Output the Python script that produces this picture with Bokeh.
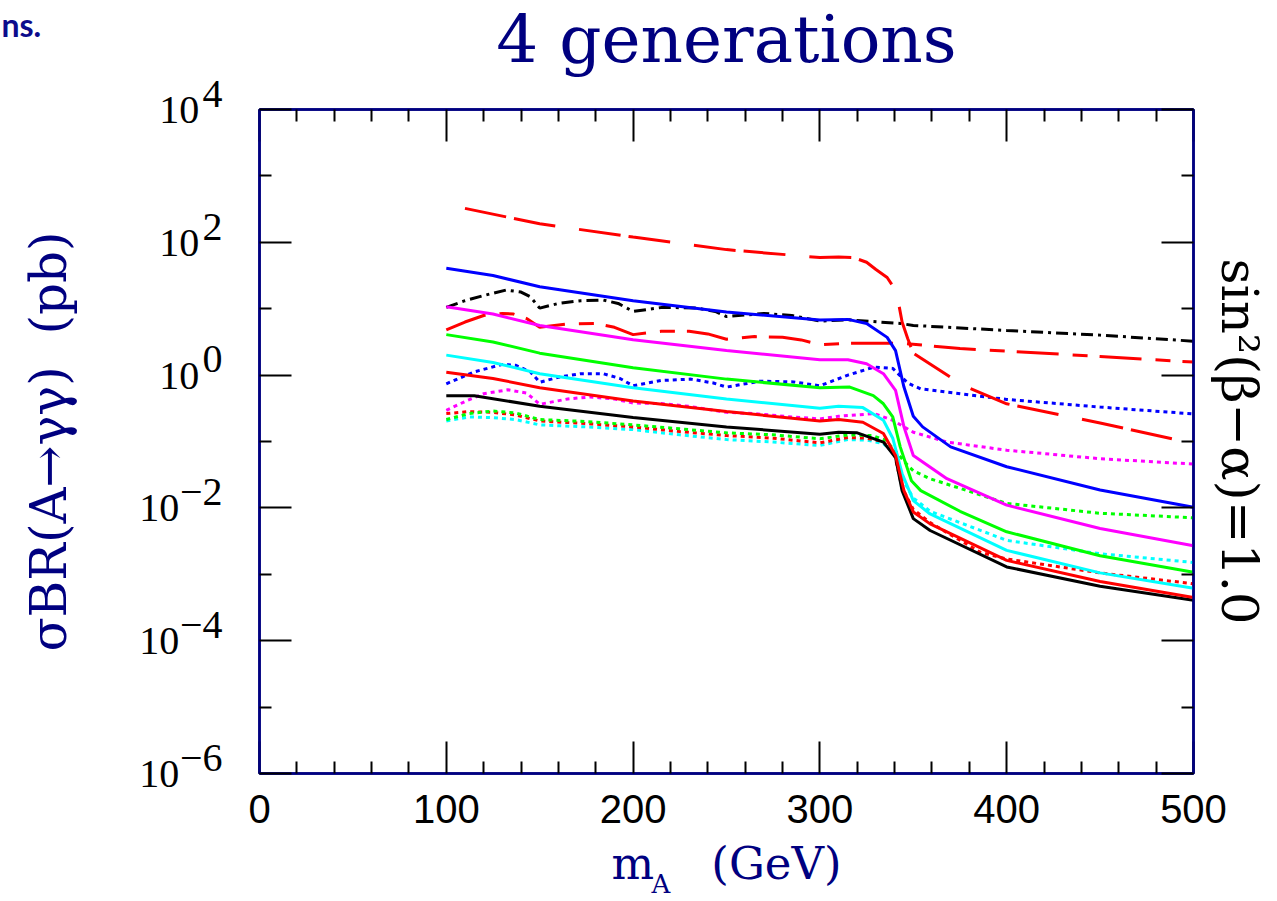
from bokeh.plotting import figure
from bokeh.models import FixedTicker, LinearAxis, LogAxis, Range1d, CustomJSTickFormatter, Title
from bokeh.embed import file_html
from bokeh.resources import INLINE

# ---------------- data (sigma*BR in pb vs m_A in GeV) ----------------
x_ticks = [0, 100, 200, 300, 400, 500]
y_ticks = [1e4, 1e2, 1.0, 1e-2, 1e-4, 1e-6]
y_tick_exp = ["4", "2", "0", "\u22122", "\u22124", "\u22126"]
y_minor_ticks = [1e3, 1e1, 1e-1, 1e-3, 1e-5]

x_blue = [100, 125, 150, 200, 250, 300, 315, 325, 336, 340.5, 345, 350, 355, 370, 400, 450, 500]
y_blue = [40.7, 31.6, 21.4, 13.2, 8.9, 6.76, 6.9, 6.0, 3.7, 2.34, 0.66, 0.24, 0.166, 0.083, 0.0417, 0.0186, 0.0102]

x_magenta = [100, 125, 150, 200, 250, 300, 315, 325, 334, 340.5, 345, 350, 368, 400, 450, 500]
y_magenta = [10.7, 8.3, 5.6, 3.4, 2.34, 1.70, 1.70, 1.48, 1.05, 0.59, 0.166, 0.0617, 0.0275, 0.011, 0.0049, 0.0027]

x_green = [100, 125, 150, 200, 250, 300, 316, 328.6, 334, 339, 343, 349, 354, 375, 400, 450, 500]
y_green = [4.07, 3.16, 2.14, 1.29, 0.87, 0.646, 0.66, 0.49, 0.37, 0.234, 0.083, 0.0257, 0.0182, 0.0089, 0.00437, 0.0019, 0.00107]

x_cyan = [100, 125, 150, 200, 250, 300, 310, 323, 334, 339, 344, 350, 359, 400, 450, 500]
y_cyan = [2.0, 1.55, 1.05, 0.646, 0.437, 0.316, 0.339, 0.324, 0.209, 0.112, 0.033, 0.0129, 0.0081, 0.00229, 0.00105, 0.000617]

x_red = [100, 125, 150, 200, 250, 300, 310, 323, 334, 340.5, 345, 350, 359, 400, 450, 500]
y_red = [1.10, 0.89, 0.646, 0.407, 0.282, 0.204, 0.214, 0.195, 0.132, 0.0617, 0.0182, 0.0087, 0.00575, 0.00162, 0.00078, 0.000447]

x_black = [100, 115, 150, 200, 250, 300, 310, 320, 334, 340.5, 344, 350, 359, 400, 450, 500]
y_black = [0.49, 0.49, 0.339, 0.229, 0.166, 0.129, 0.138, 0.135, 0.098, 0.0575, 0.0182, 0.0069, 0.00457, 0.00129, 0.00066, 0.000407]

x_red_longdash = [110, 150, 200, 250, 300, 310, 318, 325, 330, 336, 340, 342, 344, 347, 350, 377, 400, 450, 500]
y_red_longdash = [324, 190, 120, 77.6, 58.9, 60.3, 58.9, 50.1, 38.9, 29.5, 20.0, 12.6, 6.3, 3.55, 2.14, 0.69, 0.37, 0.19, 0.093]

x_red_dash = [100, 110, 120, 130, 136, 143, 150, 165, 180, 190, 200, 215, 230, 240, 250, 265, 280, 290, 300, 315, 344, 375, 400, 450, 500]
y_red_dash = [4.8, 6.3, 7.9, 8.5, 8.3, 7.1, 5.25, 5.9, 6.0, 5.25, 4.07, 4.57, 4.57, 4.17, 3.47, 3.8, 3.72, 3.39, 2.88, 3.02, 3.02, 2.51, 2.29, 1.91, 1.57]

x_black_dashdot = [100, 110, 120, 132, 140, 145, 150, 160, 172, 184, 192, 200, 216, 234, 244, 250, 270, 285, 300, 315, 343, 350, 400, 450, 500]
y_black_dashdot = [10.5, 13.2, 15.8, 19.1, 17.8, 15.1, 10.2, 12.0, 13.2, 13.5, 12.0, 9.1, 10.5, 10.2, 9.1, 7.6, 8.5, 7.9, 6.5, 6.8, 6.0, 5.6, 4.7, 4.0, 3.24]

x_blue_dot = [100, 115, 130, 137, 145, 150, 160, 172, 184, 193, 200, 215, 231, 243, 250, 268, 286, 300, 315, 329, 339, 347, 354, 400, 450, 500]
y_blue_dot = [0.74, 1.12, 1.45, 1.41, 1.12, 0.78, 0.93, 1.05, 1.05, 0.89, 0.69, 0.83, 0.87, 0.76, 0.66, 0.81, 0.79, 0.69, 1.0, 1.32, 1.26, 0.76, 0.62, 0.43, 0.33, 0.26]

x_magenta_dot = [100, 110, 120, 133, 143, 150, 165, 177, 190, 200, 215, 230, 250, 265, 285, 300, 310, 329, 339, 350, 368, 400, 450, 500]
y_magenta_dot = [0.295, 0.40, 0.525, 0.60, 0.537, 0.363, 0.437, 0.468, 0.437, 0.38, 0.372, 0.339, 0.275, 0.263, 0.234, 0.219, 0.24, 0.263, 0.209, 0.138, 0.098, 0.074, 0.055, 0.0457]

x_green_dot = [100, 112, 125, 137, 150, 175, 200, 225, 250, 275, 300, 315, 328, 335, 341, 347, 350, 359, 400, 450, 500]
y_green_dot = [0.214, 0.263, 0.288, 0.269, 0.214, 0.2, 0.178, 0.155, 0.135, 0.126, 0.11, 0.126, 0.123, 0.105, 0.069, 0.0437, 0.0363, 0.0275, 0.0117, 0.0083, 0.0071]

x_red_dot = [100, 112, 125, 137, 150, 175, 200, 225, 250, 275, 300, 315, 325, 334, 340, 344, 350, 359, 386, 400, 450, 500]
y_red_dot = [0.263, 0.282, 0.275, 0.251, 0.204, 0.186, 0.166, 0.141, 0.123, 0.112, 0.0955, 0.115, 0.112, 0.1, 0.063, 0.02, 0.0095, 0.006, 0.00214, 0.0017, 0.00105, 0.00072]

x_cyan_dot = [100, 112, 125, 137, 150, 175, 200, 225, 250, 275, 300, 315, 325, 334, 340, 344, 350, 359, 400, 450, 500]
y_cyan_dot = [0.204, 0.234, 0.229, 0.214, 0.178, 0.166, 0.151, 0.126, 0.107, 0.098, 0.087, 0.107, 0.105, 0.093, 0.066, 0.028, 0.0141, 0.0089, 0.00324, 0.00204, 0.00151]

title_text = "4 generations"
corner_text = "ns."
x_label_main = "m\u00a0\u00a0\u00a0\u00a0(GeV)"
x_label_sub = "A"
y_label = "\u03c3BR(A\u2192\u03b3\u03b3)\u00a0\u00a0(pb)"
right_label = "sin\u00b2(\u03b2\u2212\u03b1)=1.0"

# ---------------- figure ----------------
NAVY = "#000080"
FL, FT, FW, FH = 259, 109, 934, 664   # frame position on the page

p = figure(frame_width=FW, frame_height=FH,
           x_range=Range1d(0, 500), y_range=Range1d(1e-6, 1e4), y_axis_type="log",
           output_backend="svg", toolbar_location=None,
           min_border_left=FL, min_border_top=FT, min_border_right=83, min_border_bottom=127)
p.title.visible = False
p.grid.visible = False
p.outline_line_color = NAVY
p.outline_line_width = 2.5
p.background_fill_color = "white"
p.border_fill_color = "white"

xt = FixedTicker(ticks=x_ticks, minor_ticks=[v for v in range(20, 500, 20) if v % 100])
yt = FixedTicker(ticks=y_ticks, minor_ticks=y_minor_ticks)
blank = CustomJSTickFormatter(code="return ''")

def style_axis(ax):
    ax.axis_line_color = NAVY
    ax.axis_line_width = 2.5
    ax.major_tick_in = 32
    ax.major_tick_out = 0
    ax.minor_tick_in = 12
    ax.minor_tick_out = 0
    ax.major_tick_line_color = "black"
    ax.minor_tick_line_color = "black"
    ax.major_tick_line_width = 2
    ax.minor_tick_line_width = 2

# bottom axis
bx = p.xaxis[0]
bx.ticker = xt
style_axis(bx)
bx.major_label_text_font = "Liberation Sans"
bx.major_label_text_font_size = "40px"
bx.major_label_text_color = "black"
bx.major_label_standoff = 21
bx.axis_label = x_label_main
bx.axis_label_text_font = "DejaVu Serif"
bx.axis_label_text_font_size = "45px"
bx.axis_label_text_font_style = "normal"
bx.axis_label_text_color = NAVY
bx.axis_label_standoff = 11

# left axis: "10^e" written as three lines (exponent / 10 / empty) so that the
# exponent sits raised to the right of the "10", which is centred on the tick
FS2 = "\u2007\u2007\u200a"           # as wide as "10" plus a hair
def tick_text(e):
    pad = "\u2007\u200a" if not e.startswith("\u2212") else "\u2002\u2007\u200a"
    return FS2 + e + "\n" + "10" + pad + "\n\u00a0"

ly = p.yaxis[0]
ly.ticker = yt
style_axis(ly)
ly.major_label_overrides = {t: tick_text(e) for t, e in zip(y_ticks, y_tick_exp)}
ly.major_label_text_font = "Liberation Serif"
ly.major_label_text_font_size = "40px"
ly.major_label_text_line_height = 0.36
ly.major_label_text_color = "black"
ly.major_label_standoff = 37
ly.axis_label = y_label
ly.axis_label_text_font = "DejaVu Serif"
ly.axis_label_text_font_size = "50px"
ly.axis_label_text_font_style = "normal"
ly.axis_label_text_color = NAVY
ly.axis_label_standoff = 56

# top axis (ticks only); an empty 1px label with a standoff reserves the room
# in which the title and the corner fragment are placed
tx = LinearAxis(ticker=xt, formatter=blank)
style_axis(tx)
tx.major_label_standoff = 56
tx.major_label_text_font_size = "1px"
tx.axis_label = "\u00a0"
tx.axis_label_text_font_size = "1px"
tx.axis_label_standoff = 51
p.add_layout(tx, "above")

# right axis carrying the sin^2 label
ry = LogAxis(ticker=yt, formatter=blank)
style_axis(ry)
ry.major_label_standoff = 0
ry.major_label_text_font_size = "1px"
ry.axis_label = right_label
ry.axis_label_text_font = "DejaVu Serif"
ry.axis_label_text_font_size = "51px"
ry.axis_label_text_font_style = "normal"
ry.axis_label_text_color = "black"
ry.axis_label_standoff = 16
p.add_layout(ry, "right")

# title, corner fragment "ns." and the subscript of m_A
p.add_layout(Title(text=title_text, align="center", vertical_align="middle",
                   standoff=-49, text_font="DejaVu Serif", text_font_size="66px",
                   text_font_style="normal", text_color=NAVY), "above")
p.add_layout(Title(text=corner_text, align="left", offset=-258, vertical_align="middle",
                   standoff=-120, text_font="Lato", text_font_size="32px",
                   text_font_style="bold", text_color="#0c0c8c"), "above")
p.add_layout(Title(text=x_label_sub, align="left", offset=392, vertical_align="top",
                   standoff=-48, text_font="DejaVu Serif", text_font_size="26px",
                   text_font_style="normal", text_color=NAVY), "below")

# ---------------- curves ----------------
W = 3
def ln(x, y, color, dash="solid"):
    p.line(x, y, line_color=color, line_width=W, line_dash=dash)

DOT = "4 4"
ln(x_blue_dot, y_blue_dot, "#0000ff", DOT)
ln(x_magenta_dot, y_magenta_dot, "#ff00ff", DOT)
ln(x_cyan_dot, y_cyan_dot, "#00ffff", DOT)
ln(x_red_dot, y_red_dot, "#ff0000", DOT)
ln(x_green_dot, y_green_dot, "#00ff00", DOT)
ln(x_black_dashdot, y_black_dashdot, "black", "12 5 3 5")
ln(x_red_dash, y_red_dash, "#ff0000", "42 14 15 12")
ln(x_red_longdash, y_red_longdash, "#ff0000", "42 8 42 24")
ln(x_black, y_black, "black")
ln(x_cyan, y_cyan, "#00ffff")
ln(x_green, y_green, "#00ff00")
ln(x_magenta, y_magenta, "#ff00ff")
ln(x_red, y_red, "#ff0000")
ln(x_blue, y_blue, "#0000ff")

open("out.html", "w").write(file_html(p, INLINE))
